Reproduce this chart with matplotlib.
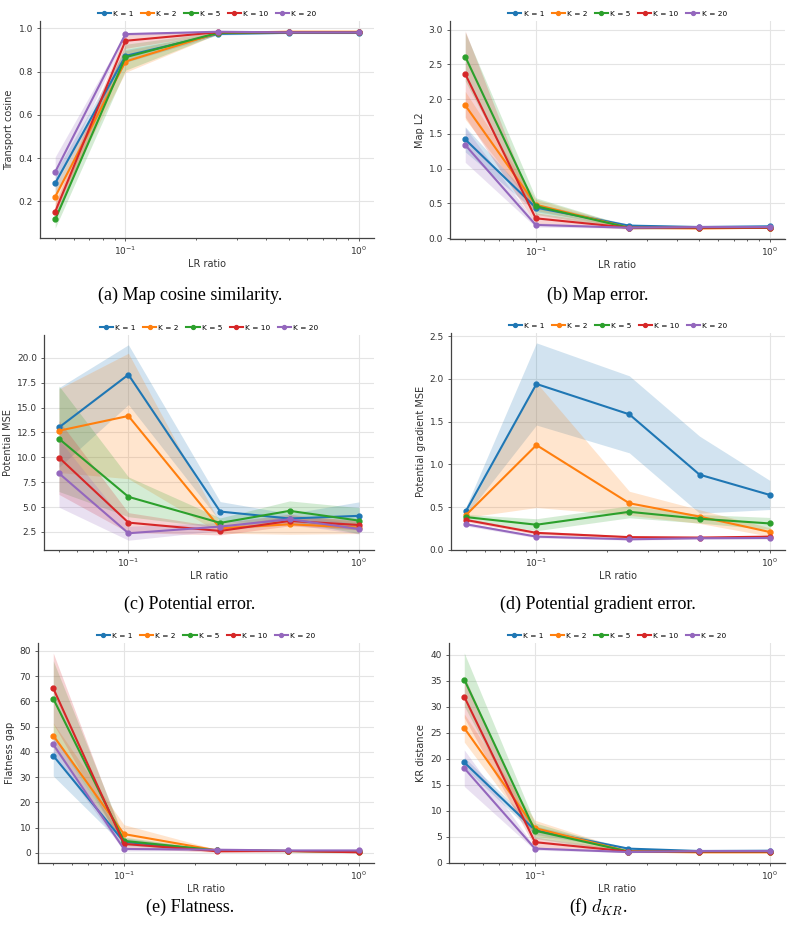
import matplotlib
matplotlib.use("Agg")
import matplotlib.pyplot as plt

plt.rcParams["mathtext.fontset"] = "cm"

# LR ratio sweep, one curve per K
lr = [0.05, 0.1, 0.25, 0.5, 1.0]
ks = [1, 2, 5, 10, 20]
colors = ["#1f77b4", "#ff7f0e", "#2ca02c", "#d62728", "#9467bd"]

# (a) transport cosine: mean / std, rows follow ks
cos_mean = [[0.284, 0.873, 0.975, 0.980, 0.980],
            [0.221, 0.847, 0.980, 0.985, 0.985],
            [0.116, 0.867, 0.980, 0.982, 0.982],
            [0.152, 0.943, 0.983, 0.982, 0.982],
            [0.336, 0.974, 0.985, 0.982, 0.982]]
cos_std = [[0.05, 0.03, 0.005, 0.004, 0.004],
           [0.05, 0.05, 0.005, 0.004, 0.004],
           [0.04, 0.06, 0.005, 0.004, 0.004],
           [0.04, 0.035, 0.005, 0.004, 0.004],
           [0.07, 0.006, 0.004, 0.004, 0.004]]

# (b) map L2
l2_mean = [[1.42, 0.44, 0.18, 0.16, 0.17],
           [1.91, 0.48, 0.15, 0.14, 0.15],
           [2.61, 0.46, 0.15, 0.15, 0.15],
           [2.36, 0.285, 0.15, 0.15, 0.15],
           [1.34, 0.19, 0.15, 0.16, 0.16]]
l2_std = [[0.18, 0.06, 0.02, 0.01, 0.01],
          [0.20, 0.08, 0.02, 0.01, 0.01],
          [0.35, 0.12, 0.02, 0.01, 0.01],
          [0.62, 0.08, 0.02, 0.01, 0.01],
          [0.25, 0.03, 0.01, 0.01, 0.01]]

# (c) potential MSE
pot_mean = [[13.0, 18.3, 4.55, 3.85, 4.12],
            [12.67, 14.15, 2.87, 3.27, 2.94],
            [11.86, 6.03, 3.41, 4.62, 3.64],
            [9.97, 3.44, 2.6, 3.61, 3.2],
            [8.39, 2.37, 3.04, 3.78, 2.8]]
pot_std = [[4.0, 3.0, 1.0, 0.5, 1.4],
           [4.2, 6.3, 0.5, 1.0, 0.6],
           [5.3, 2.0, 0.5, 1.0, 1.3],
           [3.7, 1.0, 0.4, 0.5, 0.5],
           [3.4, 0.7, 0.4, 0.5, 0.5]]

# (d) potential gradient MSE
grad_mean = [[0.46, 1.94, 1.585, 0.88, 0.643],
             [0.41, 1.226, 0.546, 0.39, 0.21],
             [0.384, 0.295, 0.446, 0.365, 0.31],
             [0.35, 0.20, 0.15, 0.145, 0.156],
             [0.30, 0.156, 0.125, 0.137, 0.14]]
grad_std = [[0.05, 0.48, 0.45, 0.45, 0.17],
            [0.03, 0.73, 0.14, 0.08, 0.05],
            [0.03, 0.07, 0.07, 0.05, 0.07],
            [0.02, 0.02, 0.015, 0.01, 0.01],
            [0.02, 0.015, 0.01, 0.01, 0.01]]

# (e) flatness gap
flat_mean = [[38.5, 4.4, 1.0, 0.8, 0.8],
             [46.5, 7.5, 1.0, 0.8, 0.6],
             [61.1, 4.8, 1.0, 0.8, 0.5],
             [65.2, 3.6, 0.7, 0.8, 0.3],
             [43.0, 1.6, 1.3, 1.0, 1.0]]
flat_std = [[8.0, 1.5, 0.3, 0.3, 0.3],
            [5.0, 3.7, 0.3, 0.3, 0.3],
            [15.0, 1.5, 0.3, 0.3, 0.3],
            [14.0, 1.5, 0.5, 0.3, 0.3],
            [4.0, 0.8, 0.3, 0.3, 0.3]]

# (f) KR distance
kr_mean = [[19.3, 6.3, 2.76, 2.3, 2.35],
           [25.9, 6.7, 2.2, 2.05, 2.05],
           [35.2, 6.2, 2.2, 2.2, 2.2],
           [31.9, 4.0, 2.2, 2.2, 2.2],
           [18.2, 2.76, 2.1, 2.3, 2.3]]
kr_std = [[1.0, 0.8, 0.2, 0.1, 0.1],
          [2.7, 1.5, 0.2, 0.1, 0.1],
          [5.1, 1.5, 0.2, 0.1, 0.1],
          [4.0, 1.0, 0.2, 0.1, 0.1],
          [3.5, 0.3, 0.1, 0.1, 0.1]]

panels = [
    (cos_mean, cos_std, "Transport cosine", "(a) Map cosine similarity.", [40, 374, 21, 238]),
    (l2_mean, l2_std, "Map L2", "(b) Map error.", [450, 785, 21, 239]),
    (pot_mean, pot_std, "Potential MSE", "(c) Potential error.", [44, 374, 335, 550]),
    (grad_mean, grad_std, "Potential gradient MSE", "(d) Potential gradient error.", [451, 785, 333, 550]),
    (flat_mean, flat_std, "Flatness gap", "(e) Flatness.", [38, 374, 643, 863]),
    (kr_mean, kr_std, "KR distance", "(f) $d_{KR}$.", [449, 785, 643, 863]),
]
caption_y = [295, 295, 604, 604, 907, 907]
caption_x = [190, 598, 190, 598, 190, 598]

W, H = 793, 934
fig = plt.figure(figsize=(W / 100, H / 100), dpi=100)

for i, (mean, std, ylab, cap, box) in enumerate(panels):
    x0, x1, y0, y1 = box
    ax = fig.add_axes([x0 / W, 1 - y1 / H, (x1 - x0) / W, (y1 - y0) / H])
    for k, m, s, c in zip(ks, mean, std, colors):
        lo = [a - b for a, b in zip(m, s)]
        hi = [a + b for a, b in zip(m, s)]
        ax.fill_between(lr, lo, hi, color=c, alpha=0.2, linewidth=0)
        ax.plot(lr, m, color=c, marker="o", markersize=3.5, linewidth=1.5, label=f"K = {k}")
    ax.set_xscale("log")
    if i == 5:
        ax.set_ylim(bottom=0)
    ax.grid(True, which="major", color="#e4e4e4", linewidth=0.8)
    ax.set_axisbelow(True)
    for side in ["top", "right"]:
        ax.spines[side].set_visible(False)
    for side in ["left", "bottom"]:
        ax.spines[side].set_color("#444444")
        ax.spines[side].set_linewidth(0.9)
    ax.tick_params(which="both", labelsize=6.5, colors="#444444", labelcolor="#333333",
                   length=2.5, width=0.6, pad=2.5)
    ax.tick_params(which="minor", length=1.5)
    ax.set_xlabel("LR ratio", fontsize=7, color="#333333", labelpad=1.5)
    ax.set_ylabel(ylab, fontsize=7, color="#333333", labelpad=3)
    ax.legend(loc="lower center", bbox_to_anchor=(0.5, 1.0), ncol=5, frameon=False,
              fontsize=5.3, handlelength=1.8, columnspacing=1.0, handletextpad=0.3,
              borderaxespad=0.2, markerscale=0.8)
    fig.text(caption_x[i] / W, 1 - caption_y[i] / H, cap, ha="center", va="center",
             fontsize=13, family="Liberation Serif")

fig.savefig("out.png", dpi=100)
